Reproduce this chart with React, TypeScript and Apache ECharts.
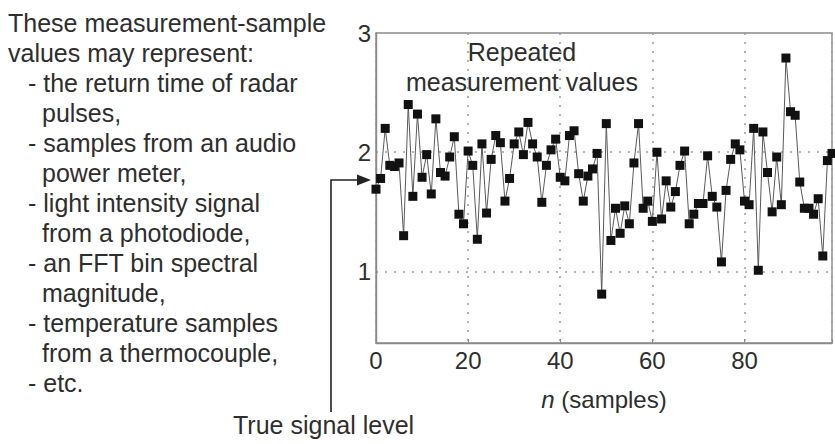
import React, { useEffect, useRef } from "react";
import * as echarts from "echarts";

const samples: number[] = [
  1.69, 1.78, 2.2, 1.89, 1.88, 1.91, 1.3, 2.4, 1.63, 2.32,
  1.79, 1.98, 1.65, 2.28, 1.83, 1.8, 1.96, 2.13, 1.48, 1.4,
  2.01, 1.89, 1.27, 2.07, 1.49, 1.94, 2.14, 2.08, 1.59, 1.78,
  2.07, 2.17, 1.98, 2.25, 2.07, 1.96, 1.58, 1.89, 2.02, 2.11,
  1.79, 1.76, 2.14, 2.18, 1.82, 1.59, 1.8, 1.86, 1.99, 0.81,
  2.24, 1.26, 1.53, 1.32, 1.55, 1.4, 1.91, 2.24, 1.53, 1.59,
  1.42, 2.0, 1.44, 1.76, 1.54, 1.67, 1.89, 2.01, 1.4, 1.48,
  1.57, 1.57, 1.97, 1.63, 1.54, 1.08, 1.68, 1.94, 2.07, 2.02,
  1.59, 1.56, 2.2, 1.01, 2.17, 1.83, 1.5, 1.96, 1.56, 2.79,
  2.34, 2.31, 1.75, 1.53, 1.53, 1.48, 1.61, 1.13, 1.93, 1.99,
];

const yGridValues: number[] = [1, 2];
const xTickStep = 20;

const headerLines: string[] = ["These measurement-sample", "values may represent:"];
const itemLines: string[][] = [
  ["- the return time of radar", "pulses,"],
  ["- samples from an audio", "power meter,"],
  ["- light intensity signal", "from a photodiode,"],
  ["- an FFT bin spectral", "magnitude,"],
  ["- temperature samples", "from a thermocouple,"],
  ["- etc."],
];
const plotTitleLines: string[] = ["Repeated", "measurement values"];
const arrowLabel = "True signal level";

const FONT = "'Liberation Sans', Arial, Helvetica, sans-serif";
const TEXT_COLOR = "#2e2e2e";

export default function App() {
  const ref = useRef<HTMLDivElement>(null);

  useEffect(() => {
    if (!ref.current) return;
    const chart = echarts.init(ref.current, undefined, { renderer: "svg" });

    const graphics: any[] = [];
    let lineIdx = 0;
    const lineY = (i: number) => 23 + 30 * i;
    headerLines.forEach((t) => {
      graphics.push({
        type: "text",
        x: 8,
        y: lineY(lineIdx++),
        style: { text: t, font: `25px ${FONT}`, fill: TEXT_COLOR, textVerticalAlign: "middle" },
      });
    });
    itemLines.forEach((item) => {
      item.forEach((t, j) => {
        graphics.push({
          type: "text",
          x: j === 0 ? 28 : 42,
          y: lineY(lineIdx++),
          style: { text: t, font: `25px ${FONT}`, fill: TEXT_COLOR, textVerticalAlign: "middle" },
        });
      });
    });
    plotTitleLines.forEach((t, i) => {
      graphics.push({
        type: "text",
        x: 522,
        y: 52 + 30 * i,
        style: {
          text: t,
          font: `25px ${FONT}`,
          fill: TEXT_COLOR,
          textAlign: "center",
          textVerticalAlign: "middle",
        },
      });
    });
    graphics.push({
      type: "text",
      x: 233,
      y: 425,
      style: { text: arrowLabel, font: `25px ${FONT}`, fill: TEXT_COLOR, textVerticalAlign: "middle" },
    });
    graphics.push({
      type: "polyline",
      shape: { points: [[331, 412], [331, 180], [360, 180]] },
      style: { stroke: "#222", lineWidth: 1.6, fill: "none" },
    });
    graphics.push({
      type: "polygon",
      shape: { points: [[371, 180], [357, 174.5], [357, 185.5]] },
      style: { fill: "#222" },
    });

    const option: any = {
      animation: false,
      backgroundColor: "#ffffff",
      textStyle: { fontFamily: FONT },
      grid: {
        left: 376,
        right: -1,
        top: 33,
        height: 310,
        show: true,
        borderColor: "#8a8a8a",
        borderWidth: 1.4,
        backgroundColor: "transparent",
      },
      xAxis: {
        type: "value",
        min: 0,
        max: samples.length - 1,
        interval: xTickStep,
        name: "{i|n} (samples)",
        nameLocation: "middle",
        nameGap: 44,
        nameTextStyle: {
          fontSize: 24,
          color: TEXT_COLOR,
          fontFamily: FONT,
          rich: { i: { fontStyle: "italic", fontSize: 24, color: TEXT_COLOR, fontFamily: FONT } },
        },
        axisLine: { show: true, lineStyle: { color: "#8a8a8a", width: 1.4 } },
        axisTick: { show: true, inside: true, length: 4, lineStyle: { color: "#8a8a8a" } },
        axisLabel: {
          fontSize: 24,
          color: TEXT_COLOR,
          fontFamily: FONT,
          margin: 5,
          formatter: (v: number) => (v % xTickStep === 0 ? String(v) : ""),
        },
        splitLine: { show: true, lineStyle: { color: "#9a9a9a", type: [2, 7], width: 1.5 } },
      },
      yAxis: {
        type: "value",
        min: 0.4,
        max: 3,
        interval: 0.2,
        axisLine: { show: true, lineStyle: { color: "#8a8a8a", width: 1.4 } },
        axisTick: { show: false },
        axisLabel: {
          fontSize: 24,
          color: TEXT_COLOR,
          fontFamily: FONT,
          margin: 5,
          formatter: (v: number) =>
            Math.abs(v - Math.round(v)) < 1e-6 ? String(Math.round(v)) : "",
        },
        splitLine: { show: false },
      },
      series: [
        {
          type: "line",
          data: samples.map((v, i) => [i, v]),
          symbol: "rect",
          symbolSize: 9,
          showSymbol: true,
          clip: false,
          itemStyle: { color: "#111" },
          lineStyle: { color: "#5a5a5a", width: 1 },
          markLine: {
            silent: true,
            symbol: "none",
            label: { show: false },
            lineStyle: { color: "#9a9a9a", type: [2, 7], width: 1.5 },
            data: yGridValues.map((v) => ({ yAxis: v })),
            z: 0,
          },
          z: 3,
        },
      ],
      graphic: graphics,
    };

    chart.setOption(option);
    return () => chart.dispose();
  }, []);

  return (
    <div
      ref={ref}
      style={{ position: "absolute", left: 0, top: 0, width: 835, height: 444, background: "#fff" }}
    />
  );
}
